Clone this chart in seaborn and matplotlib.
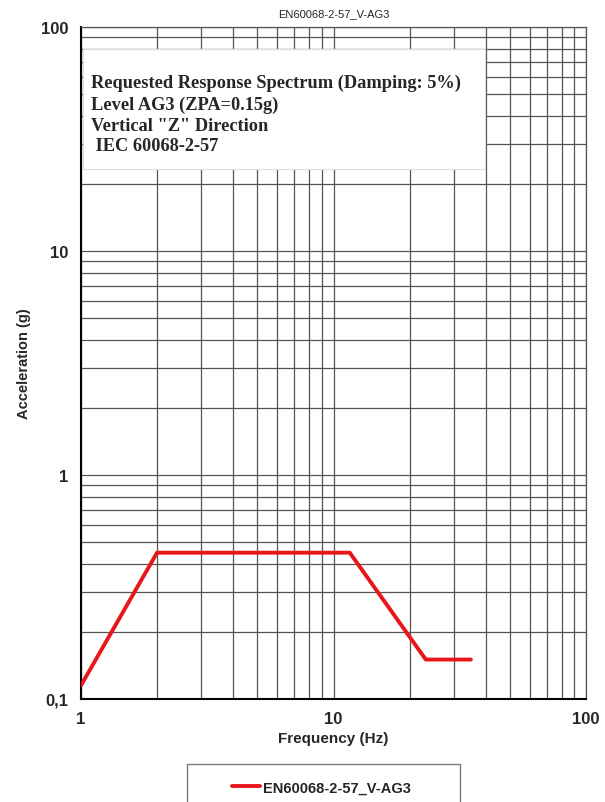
import pandas as pd
import matplotlib.pyplot as plt
import matplotlib.ticker as mticker
from matplotlib.patches import Rectangle
import seaborn as sns

# spectrum corner points
frequency_hz = [1.0, 2.0, 11.6, 23.2, 35.0]
acceleration_g = [0.115, 0.45, 0.45, 0.15, 0.15]
series_name = "EN60068-2-57_V-AG3"

y_ticks = [0.1, 1, 10, 100]
y_tick_labels = ["0,1", "1", "10", "100"]
x_ticks = [1, 10, 100]
x_tick_labels = ["1", "10", "100"]

note_lines = [
    "Requested Response Spectrum (Damping: 5%)",
    "Level AG3 (ZPA=0.15g)",
    'Vertical "Z" Direction',
    " IEC 60068-2-57",
]

df = pd.DataFrame({"freq": frequency_hz, "acc": acceleration_g, "series": series_name})

sns.set_style("white")
plt.rcParams["font.family"] = ["Liberation Sans", "DejaVu Sans"]

fig = plt.figure(figsize=(6.05, 8.03), dpi=100)
ax = fig.add_axes([81 / 605, 1 - 700 / 803, 505 / 605, 672 / 803])

sns.lineplot(data=df, x="freq", y="acc", hue="series", palette=["#e8161b"],
             linewidth=2.8, ax=ax, legend=False, zorder=5)

ax.set_xscale("log")
ax.set_yscale("log")
ax.set_xlim(1, 100)
ax.set_ylim(0.1, 100)

ax.xaxis.set_major_locator(mticker.FixedLocator(x_ticks))
ax.xaxis.set_major_formatter(mticker.FixedFormatter(x_tick_labels))
ax.yaxis.set_major_locator(mticker.FixedLocator(y_ticks))
ax.yaxis.set_major_formatter(mticker.FixedFormatter(y_tick_labels))
ax.xaxis.set_minor_locator(mticker.LogLocator(base=10, subs=range(2, 10)))
ax.yaxis.set_minor_locator(mticker.LogLocator(base=10, subs=range(2, 10)))
ax.xaxis.set_minor_formatter(mticker.NullFormatter())
ax.yaxis.set_minor_formatter(mticker.NullFormatter())

ax.grid(True, which="both", color="#555555", linewidth=0.9)
ax.set_axisbelow(True)
ax.tick_params(which="major", length=5, width=1, color="black", direction="out",
               labelsize=12, pad=4)
ax.tick_params(which="minor", length=0)
for lbl in ax.get_xticklabels() + ax.get_yticklabels():
    lbl.set_fontweight("bold")

for side in ["left", "bottom"]:
    ax.spines[side].set_color("black")
    ax.spines[side].set_linewidth(1.5)
for side in ["top", "right"]:
    ax.spines[side].set_color("#555555")
    ax.spines[side].set_linewidth(0.9)

ax.set_xlabel("Frequency (Hz)", fontsize=11, fontweight="bold", labelpad=3)
ax.set_ylabel("Acceleration (g)", fontsize=10.5, fontweight="bold", labelpad=7)
ax.set_title(series_name, fontsize=8, pad=8)

# note box over the grid
ax.add_patch(Rectangle((0.003, 0.788), 0.797, 0.179, transform=ax.transAxes,
                       facecolor="white", edgecolor="#dddddd", linewidth=0.8, zorder=3))
ax.text(0.02, 0.93, "\n".join(note_lines), transform=ax.transAxes, va="top", ha="left",
        fontsize=13.2, fontweight="bold", family=["Liberation Serif", "DejaVu Serif"],
        linespacing=1.3, zorder=4)

# legend box at bottom
fig.patches.append(Rectangle((187 / 605, -0.01), 273 / 605, 0.057, transform=fig.transFigure,
                             facecolor="white", edgecolor="#777777", linewidth=1, figure=fig))
handles = [plt.Line2D([], [], color="#e8161b", linewidth=2.8)]
fig.legend(handles, [series_name], loc="center", bbox_to_anchor=(0.531, 0.018),
           frameon=False, handlelength=1.9, handletextpad=0.2,
           prop={"weight": "bold", "size": 10.5})

fig.savefig("out.png", dpi=100)
